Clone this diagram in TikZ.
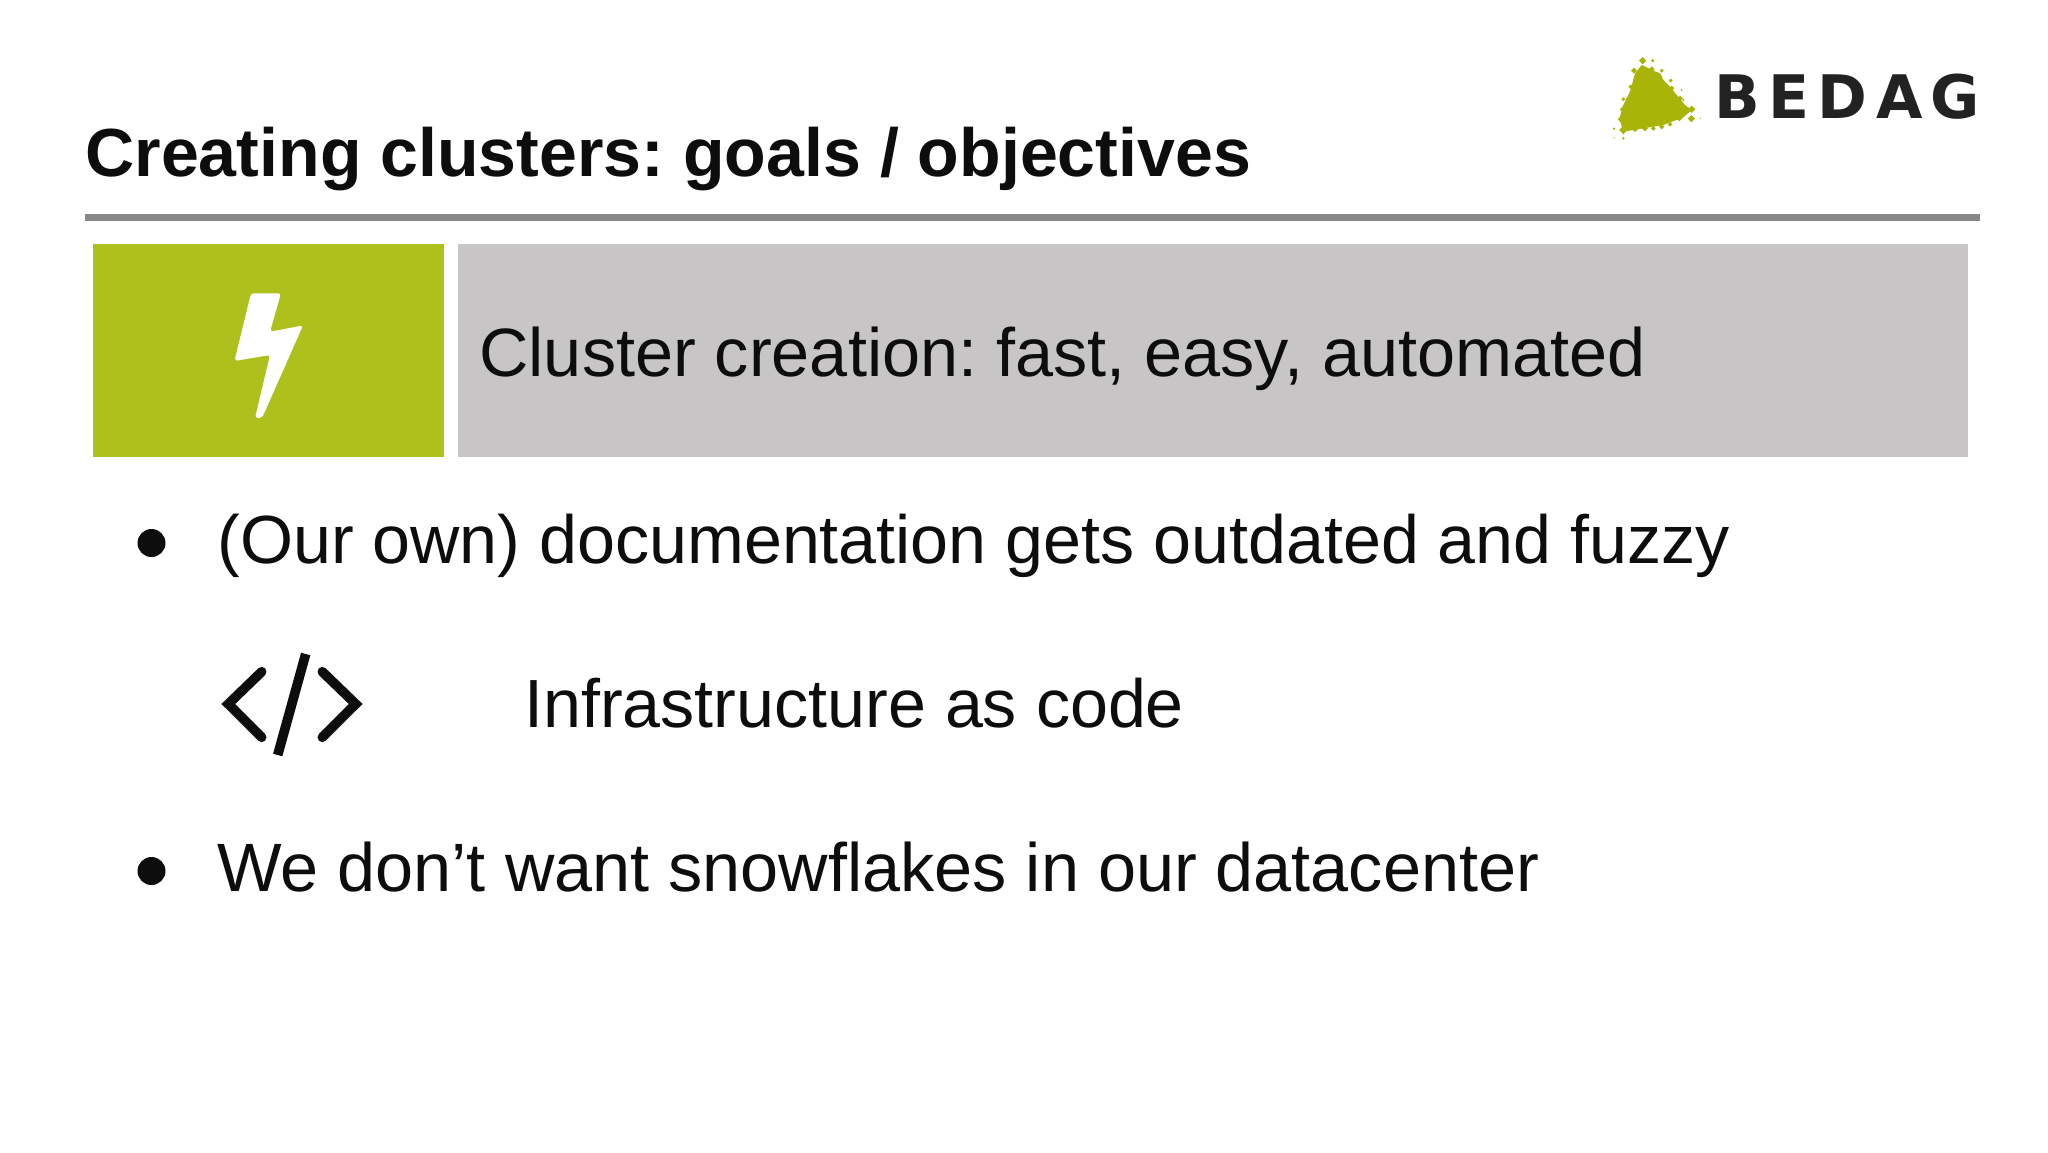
\documentclass[tikz,border=0pt]{standalone}
\usepackage{fontspec}
\setmainfont{Liberation Sans}
\newfontfamily\logofont[LetterSpace=14]{DejaVu Sans}
\definecolor{limebar}{HTML}{AEC01C}
\definecolor{graybar}{HTML}{C7C5C6}
\definecolor{rulegray}{HTML}{888888}
\definecolor{logolime}{HTML}{A9B409}
\definecolor{inktext}{HTML}{0D0D0D}
\definecolor{logoink}{HTML}{222222}
\tikzset{
  txt/.style={anchor=base west,inner sep=0pt,text=inktext,font=\fontsize{34.1}{40}\selectfont\frenchspacing},
  txtwide/.style={txt,font=\fontsize{34.2}{40}\selectfont\frenchspacing},
  ttl/.style={txt,font=\fontsize{34.05}{40}\bfseries\selectfont\frenchspacing},
  bar/.style={anchor=north west,inner sep=0pt,minimum height=106.5pt},
  bulletdot/.style={circle,fill=inktext,inner sep=0pt,minimum size=14pt},
  iconline/.style={draw=inktext,line width=4.8pt,line cap=round,line join=miter},
}
\begin{document}
\begin{tikzpicture}[x=0.5pt,y=-0.5pt]
\useasboundingbox (0,0) rectangle (2048,1152);
\fill[white] (0,0) rectangle (2048,1152);
% title
\node[ttl] (title) at (85,176) {Creating clusters: goals / objectives};
\fill[rulegray] (85,214) rectangle (1980,220.5);
% bars
\node[bar,fill=limebar,minimum width=175.5pt] (iconbar) at (93,244) {};
\node[bar,fill=graybar,minimum width=755pt] (textbar) at (458,244) {};
\node[txtwide] (barlabel) at (479,376.5) {Cluster creation: fast, easy, automated};
% bolt
\fill[white,rounded corners=1.5pt] (251,293.3) -- (281,293.3) -- (270,331.7) -- (303,325.5) -- (262,418) -- (255,418) -- (270,355) -- (234.5,361) -- cycle;
% bullets
\node[bulletdot] (b1) at (151.5,543) {};
\node[txt] (l1) at (217,563) {(Our own) documentation gets outdated and fuzzy};
\node[txt] (l2) at (524,727) {Infrastructure as code};
\node[bulletdot] (b2) at (151.5,871) {};
\node[txtwide] (l3) at (217,891) {We don’t want snowflakes in our datacenter};
% code icon
\draw[iconline] (261.7,671.7) -- (228.3,704) -- (261.7,737.3);
\draw[iconline] (322.3,671.7) -- (355.7,704) -- (322.3,737.3);
\draw[iconline,line cap=butt] (305.7,654) -- (277.7,755);
% logo
\begin{scope}[shift={(1580,30)},x=0.16667pt,y=-0.16667pt]
\fill[logolime] (185,105) -- (200,112) -- (215,120) -- (240,130) -- (250,150) -- (270,170) -- (290,195) -- (315,225) -- (335,240) -- (310,262) -- (250,285) -- (130,305) -- (118,265) -- (130,225) -- (150,185) -- (165,130) -- cycle;
\foreach \cx/\cy/\rr in {188/92/11,218/92/5,162/122/9,130/208/6,334/266/11,305/180/3,272/152/6,245/122/6,362/265/2,102/296/4,130/325/4,102/323/2,130/300/13,165/297/9,195/295/9,220/295/7,245/290/8,270/283/7,310/210/4,128/238/9,240/140/7,125/268/12,335/238/11,300/205/8,275/175/8,215/118/9,152/170/7,145/205/6,298/265/9}
  \fill[logolime] (\cx-\rr,\cy) -- (\cx,\cy-\rr) -- (\cx+\rr,\cy) -- (\cx,\cy+\rr) -- cycle;
\end{scope}
\node[anchor=base west,inner sep=0pt,text=logoink,font=\fontsize{30}{36}\logofont\bfseries\selectfont] (logoword) at (1714,118) {BEDAG};
\end{tikzpicture}
\end{document}
